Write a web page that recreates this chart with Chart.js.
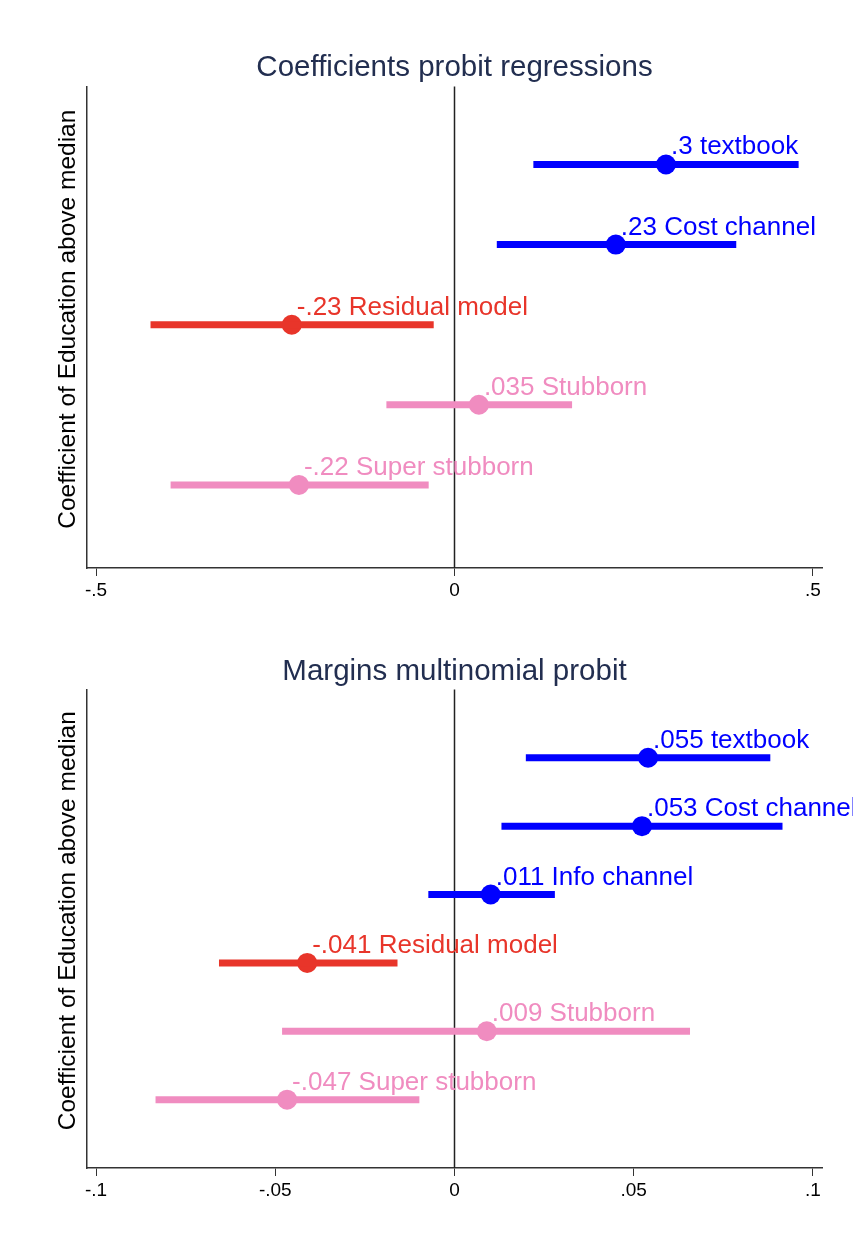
<!DOCTYPE html>
<html lang="en">
<head>
<meta charset="UTF-8">
<title>Education coefficients</title>
<script src="https://cdn.jsdelivr.net/npm/chart.js"></script>
<style>
  body { margin: 0; background: #fff; overflow: hidden; }
  .box { position: relative; width: 853px; }
</style>
</head>
<body>
<div class="box" style="height:620px"><canvas id="probitChart"></canvas></div>
<div class="box" style="height:628px"><canvas id="marginsChart"></canvas></div>

<script>
// Top panel: probit coefficients
const probitLabels = ['.3 textbook', '.23 Cost channel', '-.23 Residual model', '.035 Stubborn', '-.22 Super stubborn'];
const probitCoef = [0.295, 0.225, -0.227, 0.034, -0.217];
const probitLow = [0.110, 0.059, -0.424, -0.095, -0.396];
const probitHigh = [0.480, 0.393, -0.029, 0.164, -0.036];
const probitGroup = ['blue', 'blue', 'red', 'pink', 'pink'];
const probitTicks = [-0.5, 0, 0.5];

// Bottom panel: multinomial probit margins
const marginLabels = ['.055 textbook', '.053 Cost channel', '.011 Info channel', '-.041 Residual model', '.009 Stubborn', '-.047 Super stubborn'];
const marginCoef = [0.054, 0.0523, 0.0101, -0.0411, 0.009, -0.0467];
const marginLow = [0.0199, 0.0131, -0.0073, -0.0657, -0.0481, -0.0834];
const marginHigh = [0.0881, 0.0915, 0.028, -0.0159, 0.0657, -0.0098];
const marginGroup = ['blue', 'blue', 'blue', 'red', 'pink', 'pink'];
const marginTicks = [-0.1, -0.05, 0, 0.05, 0.1];

const yTitle = 'Coefficient of Education above median';
const colors = { blue: '#0000ff', red: '#e8352a', pink: '#f08cc0' };
const FONT = '"Liberation Sans", Arial, Helvetica, sans-serif';

function fmtTick(v) {
    if (v === 0) return '0';
    return String(v).replace('0.', '.');
}

// zero line, y title and value labels
const extrasPlugin = {
    id: 'extras',
    beforeDatasetsDraw(chart) {
        const { ctx, chartArea, scales } = chart;
        const x0 = scales.x.getPixelForValue(0);
        ctx.save();
        ctx.strokeStyle = '#222';
        ctx.lineWidth = 1.5;
        ctx.beginPath();
        ctx.moveTo(x0, chartArea.top);
        ctx.lineTo(x0, chartArea.bottom);
        ctx.stroke();

        // y axis title, a bit above the middle like the original
        ctx.translate(68, (chartArea.top + chartArea.bottom) / 2 - 8);
        ctx.rotate(-Math.PI / 2);
        ctx.font = '24.5px ' + FONT;
        ctx.fillStyle = '#000';
        ctx.textAlign = 'center';
        ctx.textBaseline = 'middle';
        ctx.fillText(yTitle, 0, 0);
        ctx.restore();
    },
    afterDatasetsDraw(chart, args, opts) {
        const { ctx, scales } = chart;
        ctx.save();
        ctx.font = '26px ' + FONT;
        ctx.textBaseline = 'alphabetic';
        ctx.textAlign = 'left';
        opts.labels.forEach((lab, i) => {
            const x = scales.x.getPixelForValue(opts.coef[i]);
            const y = scales.y.getPixelForValue(i + 1);
            ctx.fillStyle = colors[opts.group[i]];
            ctx.fillText(lab, x + 5, y - 10);
        });
        ctx.restore();
    }
};

function makeChart(id, title, labels, coef, low, high, group, ticks, xmax, yrange, layout) {
    const datasets = [];
    labels.forEach((lab, i) => {
        datasets.push({
            type: 'line',
            data: [{ x: low[i], y: i + 1 }, { x: high[i], y: i + 1 }],
            borderColor: colors[group[i]],
            borderWidth: 7,
            borderCapStyle: 'butt',
            pointRadius: 0,
            showLine: true
        });
    });
    datasets.push({
        type: 'scatter',
        data: coef.map((c, i) => ({ x: c, y: i + 1 })),
        backgroundColor: group.map(g => colors[g]),
        borderWidth: 0,
        pointRadius: 10
    });

    return new Chart(document.getElementById(id), {
        type: 'scatter',
        data: { datasets },
        options: {
            responsive: true,
            maintainAspectRatio: false,
            animation: false,
            layout: { padding: { top: layout.top, right: 31, bottom: 0, left: 0 } },
            plugins: {
                legend: { display: false },
                tooltip: { enabled: false },
                title: {
                    display: true,
                    fullSize: false,
                    text: title,
                    color: '#222e50',
                    font: { family: FONT, size: 29.5, weight: 'normal' },
                    padding: { top: 0, bottom: layout.titleGap }
                },
                extras: { labels, coef, group }
            },
            scales: {
                x: {
                    type: 'linear',
                    min: -xmax,
                    max: xmax,
                    afterBuildTicks(scale) { scale.ticks = ticks.map(v => ({ value: v })); },
                    afterFit(scale) { scale.height = layout.xHeight; },
                    grid: { display: true, drawOnChartArea: false, tickLength: 8, color: '#333', lineWidth: 1 },
                    border: { display: true, color: '#333', width: 1.5 },
                    ticks: {
                        color: '#000',
                        padding: 3,
                        maxRotation: 0,
                        font: { family: FONT, size: 19 },
                        callback: v => fmtTick(v)
                    }
                },
                y: {
                    type: 'linear',
                    min: yrange[0],
                    max: yrange[1],
                    reverse: true,
                    afterFit(scale) { scale.width = 87; },
                    grid: { display: false },
                    border: { display: true, color: '#333', width: 1.5 },
                    ticks: { display: false }
                }
            }
        },
        plugins: [extrasPlugin]
    });
}

makeChart('probitChart', 'Coefficients probit regressions', probitLabels, probitCoef, probitLow, probitHigh,
    probitGroup, probitTicks, 0.5126, [0.025, 6.0375], { top: 50, titleGap: 1, xHeight: 52 });
makeChart('marginsChart', 'Margins multinomial probit', marginLabels, marginCoef, marginLow, marginHigh,
    marginGroup, marginTicks, 0.10252, [0, 7], { top: 34, titleGap: 0, xHeight: 80 });
</script>
</body>
</html>
